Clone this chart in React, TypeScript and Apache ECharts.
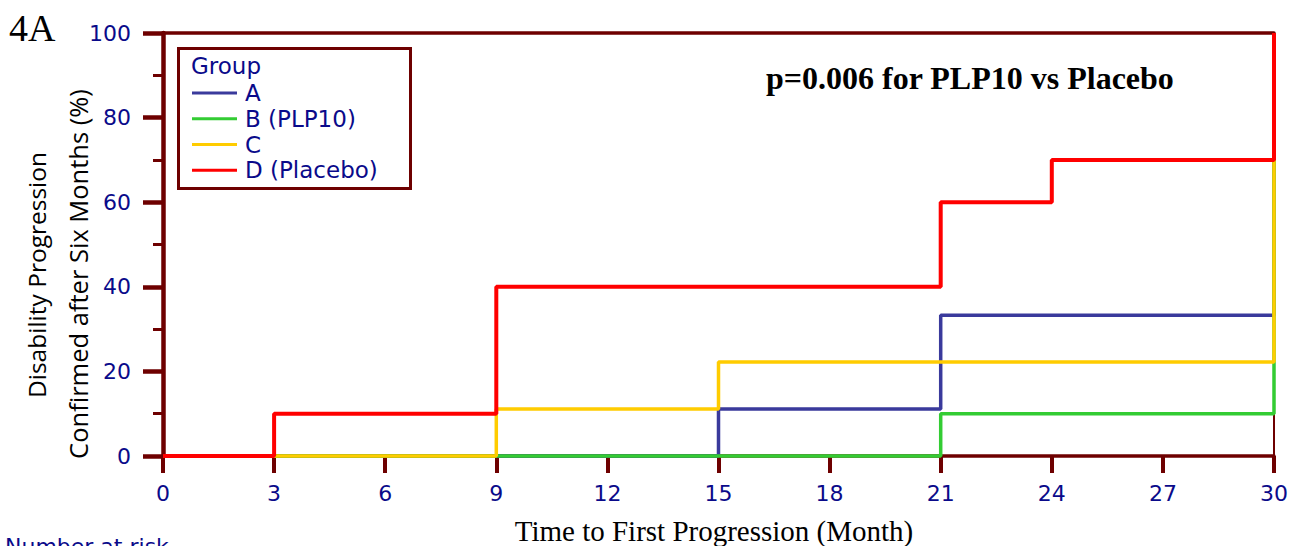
import React, { useEffect, useRef } from 'react';
import * as echarts from 'echarts';

const groupNames = ['A', 'B (PLP10)', 'C', 'D (Placebo)'];
const groupColors = ['#3a3a9c', '#33cc33', '#ffcc00', '#ff0000'];
const groupA = [[0, 0], [15, 11.1], [21, 33.3], [30, 33.3], [30, 100]];
const groupB = [[0, 0], [21, 10], [30, 10], [30, 100]];
const groupC = [[0, 0], [9, 11.1], [15, 22.2], [30, 22.2], [30, 100]];
const groupD = [[0, 0], [3, 10], [9, 40], [21, 60], [24, 70], [30, 70], [30, 100]];
const groupData = [groupA, groupB, groupC, groupD];

const AXIS = '#6e0000';
const NAVY = '#0a0a8a';

export default function App() {
  const ref = useRef<HTMLDivElement>(null);
  useEffect(() => {
    document.body.style.margin = '0';
    const chart = echarts.init(ref.current!, null, { renderer: 'svg' });
    chart.setOption({
      animation: false,
      grid: { left: 163, top: 33, right: 18, bottom: 90, show: false },
      xAxis: [
        {
          type: 'value', min: 0, max: 30, interval: 3,
          axisLine: { show: true, onZero: false, lineStyle: { color: AXIS, width: 3.5 } },
          axisTick: { show: true, length: 17, lineStyle: { color: AXIS, width: 4 } },
          axisLabel: { color: NAVY, fontFamily: 'DejaVu Sans', fontSize: 22, margin: 26 },
          splitLine: { show: false },
        },
        {
          type: 'value', min: 0, max: 30, position: 'top',
          axisLine: { show: true, onZero: false, lineStyle: { color: AXIS, width: 3.5 } },
          axisTick: { show: false }, axisLabel: { show: false }, splitLine: { show: false },
        },
      ],
      yAxis: [
        {
          type: 'value', min: 0, max: 100, interval: 20,
          axisLine: { show: true, onZero: false, lineStyle: { color: AXIS, width: 4.5 } },
          axisTick: { show: true, length: 20, lineStyle: { color: AXIS, width: 4.5 } },
          minorTick: { show: true, splitNumber: 2, length: 10, lineStyle: { color: AXIS, width: 3 } },
          axisLabel: { color: NAVY, fontFamily: 'DejaVu Sans', fontSize: 22, margin: 32 },
          splitLine: { show: false },
        },
        {
          type: 'value', min: 0, max: 100, position: 'right',
          axisLine: { show: true, onZero: false, lineStyle: { color: AXIS, width: 2 } },
          axisTick: { show: false }, axisLabel: { show: false }, splitLine: { show: false },
        },
      ],
      legend: {
        orient: 'vertical', left: 192, top: 80, padding: 0,
        icon: 'rect', itemWidth: 45, itemHeight: 3, itemGap: 0,
        textStyle: { color: NAVY, fontFamily: 'DejaVu Sans', fontSize: 23, lineHeight: 25.8, padding: [0, 0, 0, 3] },
        data: groupNames,
      },
      series: groupNames.map((name, i) => ({
        name, type: 'line', step: 'end', data: groupData[i], showSymbol: false, symbol: 'none',
        clip: false, color: groupColors[i],
        lineStyle: { color: groupColors[i], width: i === 3 ? 4 : 3.5 },
        z: 3 + i,
      })),
      graphic: [
        { type: 'rect', shape: { x: 178.5, y: 48.5, width: 232, height: 140 }, style: { fill: 'none', stroke: AXIS, lineWidth: 3 }, z: 10 },
        { type: 'text', x: 191, y: 66, style: { text: 'Group', fill: NAVY, font: '23px "DejaVu Sans"', textVerticalAlign: 'middle' }, z: 10 },
        { type: 'text', x: 9, y: 28, style: { text: '4A', fill: '#000', font: '38px "Liberation Serif"', textVerticalAlign: 'middle' } },
        { type: 'text', x: 766, y: 78, style: { text: 'p=0.006 for PLP10 vs Placebo', fill: '#000', font: 'bold 32px "Liberation Serif"', textVerticalAlign: 'middle' } },
        { type: 'text', x: 714, y: 531, style: { text: 'Time to First Progression (Month)', fill: '#000', font: '29px "Liberation Serif"', textAlign: 'center', textVerticalAlign: 'middle' } },
        { type: 'text', x: 36, y: 275, rotation: Math.PI / 2, style: { text: 'Disability Progression', fill: '#000', font: '24.5px "Open Sans"', textAlign: 'center', textVerticalAlign: 'middle' } },
        { type: 'text', x: 78, y: 274, rotation: Math.PI / 2, style: { text: 'Confirmed after Six Months (%)', fill: '#000', font: '25.5px "Open Sans"', textAlign: 'center', textVerticalAlign: 'middle' } },
        { type: 'text', x: 5, y: 546, style: { text: 'Number at risk', fill: NAVY, font: '22px "DejaVu Sans"', textVerticalAlign: 'middle' } },
      ],
    });
    return () => chart.dispose();
  }, []);
  return <div ref={ref} style={{ width: 1292, height: 546 }} />;
}
